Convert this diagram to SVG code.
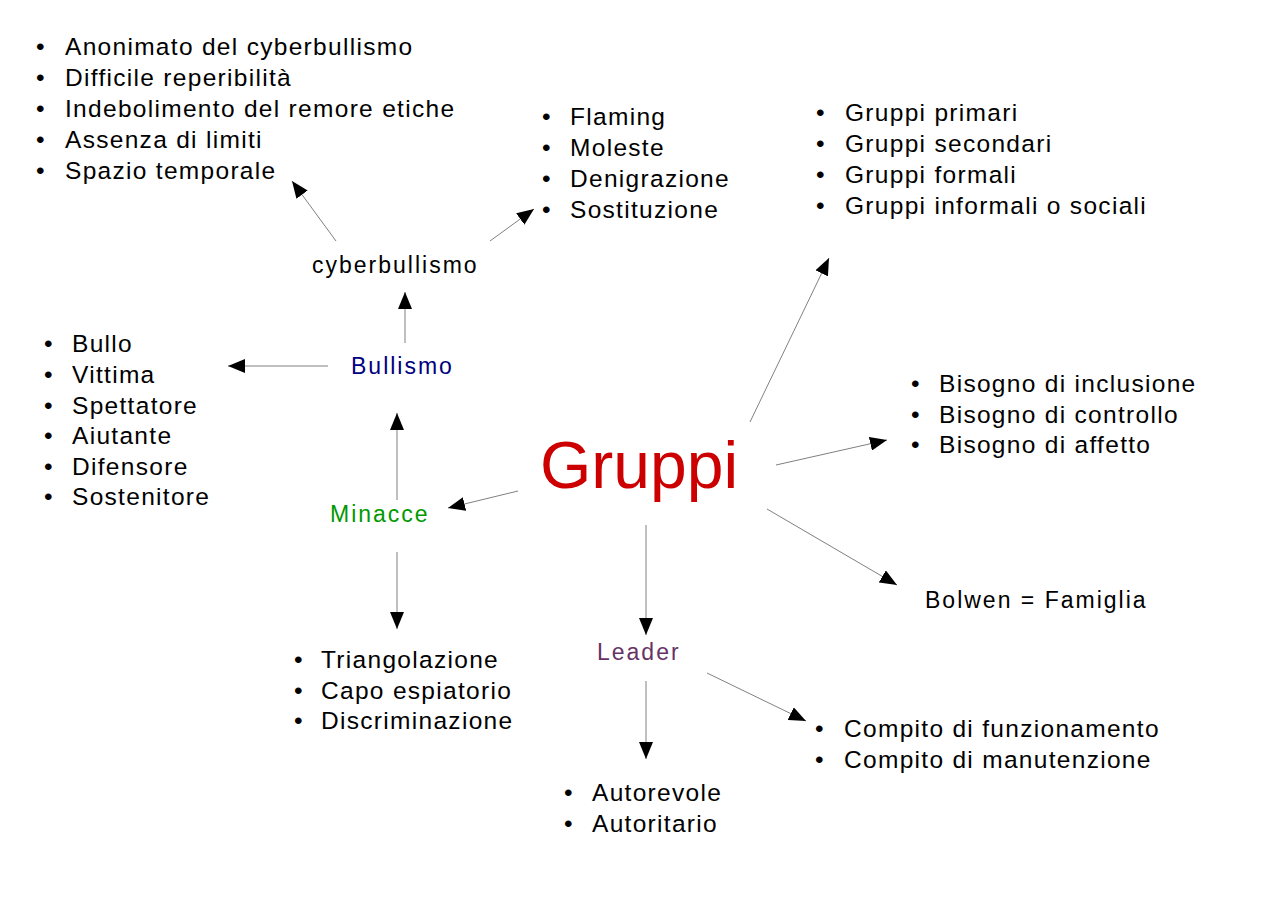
<svg xmlns="http://www.w3.org/2000/svg" width="1280" height="905" viewBox="0 0 1280 905">
<style>
text{font-family:"Liberation Sans",Arial,sans-serif;font-size:24.5px;letter-spacing:1.3px;fill:#000}
.l{font-size:23px;letter-spacing:2px}
.c line{stroke:#808080;stroke-width:1;marker-end:url(#a)}
</style>
<defs><marker id="a" markerUnits="userSpaceOnUse" markerWidth="18" markerHeight="14" refX="17" refY="7" orient="auto"><path d="M0,0 L17,7 L0,14 Z" fill="#000"/></marker></defs>
<rect width="1280" height="905" fill="#fff"/>
<g class="c">
<line x1="336" y1="241" x2="292" y2="181"/>
<line x1="490" y1="241" x2="534" y2="209"/>
<line x1="405" y1="343" x2="405" y2="292"/>
<line x1="328" y1="366" x2="228" y2="366"/>
<line x1="397" y1="500" x2="397" y2="413"/>
<line x1="397" y1="552" x2="397" y2="629"/>
<line x1="518" y1="491" x2="448" y2="508"/>
<line x1="750" y1="422" x2="829" y2="258"/>
<line x1="776" y1="465" x2="887" y2="440"/>
<line x1="767" y1="509" x2="897" y2="585"/>
<line x1="646" y1="525" x2="646" y2="635"/>
<line x1="646" y1="681" x2="646" y2="759"/>
<line x1="707" y1="673" x2="806" y2="721"/>
</g>
<g id="gruppi"><text x="540" y="488" style="font-size:66px;letter-spacing:0;fill:#cc0000">Gruppi</text></g>
<g id="cyberbullismo"><text x="312" y="273" class="l">cyberbullismo</text></g>
<g id="bullismo"><text x="351" y="374" class="l" style="fill:#000080">Bullismo</text></g>
<g id="minacce"><text x="330" y="522" class="l" style="fill:#009900">Minacce</text></g>
<g id="leader"><text x="597" y="660" class="l" style="fill:#663366">Leader</text></g>
<g id="bolwen"><text x="925" y="608" class="l">Bolwen = Famiglia</text></g>
<g id="cyberlist">
<text x="36" y="55">•</text><text x="65" y="55">Anonimato del cyberbullismo</text>
<text x="36" y="86">•</text><text x="65" y="86">Difficile reperibilità</text>
<text x="36" y="117">•</text><text x="65" y="117">Indebolimento del remore etiche</text>
<text x="36" y="148">•</text><text x="65" y="148">Assenza di limiti</text>
<text x="36" y="179">•</text><text x="65" y="179">Spazio temporale</text>
</g>
<g id="flaming">
<text x="542" y="125">•</text><text x="570" y="125">Flaming</text>
<text x="542" y="156">•</text><text x="570" y="156">Moleste</text>
<text x="542" y="187">•</text><text x="570" y="187">Denigrazione</text>
<text x="542" y="218">•</text><text x="570" y="218">Sostituzione</text>
</g>
<g id="tipi">
<text x="816" y="121">•</text><text x="845" y="121">Gruppi primari</text>
<text x="816" y="152">•</text><text x="845" y="152">Gruppi secondari</text>
<text x="816" y="183">•</text><text x="845" y="183">Gruppi formali</text>
<text x="816" y="214">•</text><text x="845" y="214">Gruppi informali o sociali</text>
</g>
<g id="ruoli">
<text x="44" y="352">•</text><text x="72" y="352">Bullo</text>
<text x="44" y="383">•</text><text x="72" y="383">Vittima</text>
<text x="44" y="414">•</text><text x="72" y="414">Spettatore</text>
<text x="44" y="444">•</text><text x="72" y="444">Aiutante</text>
<text x="44" y="475">•</text><text x="72" y="475">Difensore</text>
<text x="44" y="505">•</text><text x="72" y="505">Sostenitore</text>
</g>
<g id="bisogni">
<text x="911" y="392">•</text><text x="939" y="392">Bisogno di inclusione</text>
<text x="911" y="423">•</text><text x="939" y="423">Bisogno di controllo</text>
<text x="911" y="453">•</text><text x="939" y="453">Bisogno di affetto</text>
</g>
<g id="minaccelist">
<text x="294" y="668">•</text><text x="321" y="668">Triangolazione</text>
<text x="294" y="699">•</text><text x="321" y="699">Capo espiatorio</text>
<text x="294" y="729">•</text><text x="321" y="729">Discriminazione</text>
</g>
<g id="compiti">
<text x="815" y="737">•</text><text x="844" y="737">Compito di funzionamento</text>
<text x="815" y="768">•</text><text x="844" y="768">Compito di manutenzione</text>
</g>
<g id="stili">
<text x="564" y="801">•</text><text x="592" y="801">Autorevole</text>
<text x="564" y="832">•</text><text x="592" y="832">Autoritario</text>
</g>
</svg>
